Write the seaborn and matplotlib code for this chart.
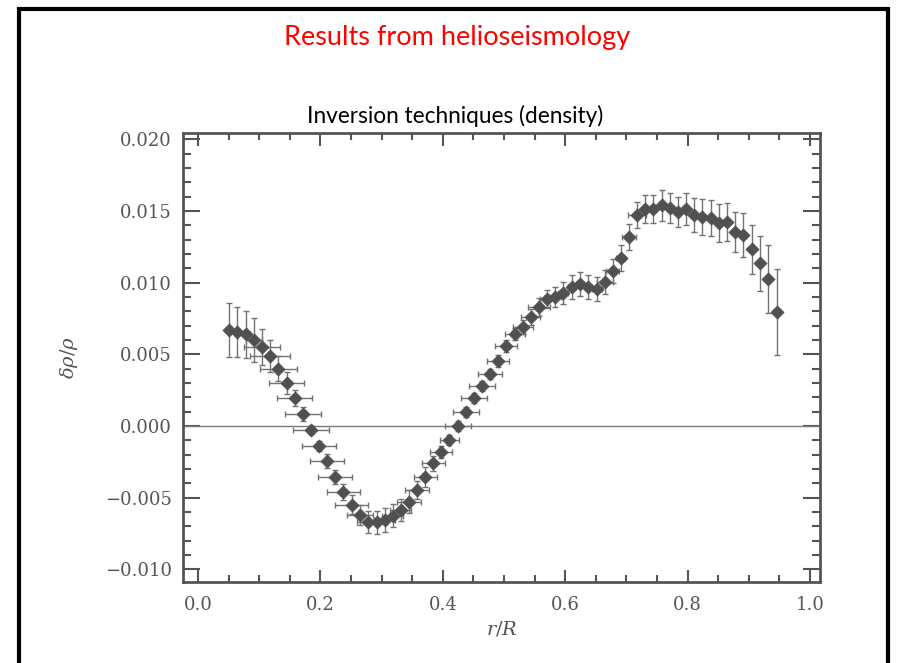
import matplotlib
matplotlib.use("Agg")
import matplotlib.pyplot as plt
from matplotlib.patches import Rectangle
from matplotlib.ticker import MultipleLocator
import seaborn as sns
import pandas as pd

# ---- data ----
r_over_R = [0.0511, 0.0642, 0.0779, 0.0915, 0.1046, 0.1176, 0.1312, 0.1449, 0.1580, 0.1716,
            0.1846, 0.1982, 0.2113, 0.2244, 0.2374, 0.2511, 0.2647, 0.2783, 0.2920, 0.3051,
            0.3181, 0.3312, 0.3448, 0.3578, 0.3714, 0.3845, 0.3975, 0.4106, 0.4243, 0.4379,
            0.4510, 0.4641, 0.4771, 0.4907, 0.5038, 0.5175, 0.5306, 0.5436, 0.5577, 0.5708,
            0.5838, 0.5969, 0.6106, 0.6242, 0.6377, 0.6515, 0.6645, 0.6773, 0.6904, 0.7042,
            0.7173, 0.7304, 0.7440, 0.7577, 0.7708, 0.7843, 0.7974, 0.8110, 0.8240, 0.8377,
            0.8508, 0.8644, 0.8775, 0.8910, 0.9048, 0.9183, 0.9319, 0.9456]
drho_rho = [0.00670, 0.00658, 0.00640, 0.00600, 0.00553, 0.00488, 0.00401, 0.00302, 0.00193, 0.00084,
            -0.00028, -0.00137, -0.00244, -0.00354, -0.00458, -0.00551, -0.00621, -0.00668, -0.00672, -0.00656,
            -0.00626, -0.00586, -0.00528, -0.00447, -0.00354, -0.00260, -0.00179, -0.00098, 0.00000, 0.00100,
            0.00197, 0.00279, 0.00361, 0.00456, 0.00560, 0.00640, 0.00693, 0.00759, 0.00833, 0.00886,
            0.00902, 0.00926, 0.00972, 0.00989, 0.00968, 0.00956, 0.01007, 0.01084, 0.01174, 0.01321,
            0.01472, 0.01512, 0.01512, 0.01539, 0.01523, 0.01496, 0.01512, 0.01472, 0.01461, 0.01449,
            0.01415, 0.01421, 0.01356, 0.01333, 0.01233, 0.01135, 0.01026, 0.00798]
y_err = [0.00186, 0.00174, 0.00165, 0.00154, 0.00126, 0.00112, 0.00084, 0.00077, 0.00056, 0.00049,
         0.00031, 0.00035, 0.00047, 0.00049, 0.00056, 0.00066, 0.00070, 0.00077, 0.00082, 0.00082,
         0.00079, 0.00075, 0.00082, 0.00066, 0.00070, 0.00052, 0.00042, 0.00035, 0.00035, 0.00035,
         0.00035, 0.00035, 0.00035, 0.00042, 0.00042, 0.00042, 0.00049, 0.00056, 0.00063, 0.00063,
         0.00070, 0.00077, 0.00084, 0.00084, 0.00084, 0.00084, 0.00084, 0.00084, 0.00091, 0.00091,
         0.00091, 0.00098, 0.00098, 0.00105, 0.00105, 0.00105, 0.00112, 0.00119, 0.00126, 0.00126,
         0.00133, 0.00133, 0.00140, 0.00154, 0.00171, 0.00193, 0.00237, 0.00300]
x_err = [0.000, 0.000, 0.005, 0.013, 0.030, 0.032, 0.030, 0.029, 0.029, 0.029,
         0.029, 0.028, 0.028, 0.028, 0.027, 0.027, 0.022, 0.018, 0.017, 0.017,
         0.017, 0.017, 0.019, 0.019, 0.019, 0.019, 0.018, 0.016, 0.021, 0.021,
         0.021, 0.021, 0.020, 0.018, 0.018, 0.016, 0.016, 0.016, 0.018, 0.012,
         0.010, 0.008, 0.006, 0.006, 0.006, 0.008, 0.013, 0.010, 0.008, 0.011,
         0.015, 0.004, 0.004, 0.004, 0.004, 0.004, 0.004, 0.004, 0.004, 0.004,
         0.004, 0.004, 0.004, 0.004, 0.004, 0.004, 0.004, 0.004]

x_ticks = [0.0, 0.2, 0.4, 0.6, 0.8, 1.0]
y_ticks = [-0.010, -0.005, 0.000, 0.005, 0.010, 0.015, 0.020]

title_text = "Results from helioseismology"
subtitle_text = "Inversion techniques (density)"
x_label = "$r/R$"
y_label = r"$\delta\rho/\rho$"

df = pd.DataFrame({"r": r_over_R, "d": drho_rho})

# ---- figure ----
sns.set_style("ticks")
plt.rcParams["font.family"] = ["DejaVu Serif"]
plt.rcParams["mathtext.fontset"] = "dejavuserif"

W, H, DPI = 901, 663, 100
fig = plt.figure(figsize=(W / DPI, H / DPI), dpi=DPI)
fig.patch.set_facecolor("white")

ax = fig.add_axes([183 / W, 1 - 582 / H, (820 - 183) / W, (582 - 133) / H])

axis_col = "#555555"
pt_col = "#505050"
err_col = "#727272"

ax.axhline(0.0, color="#7a7a7a", lw=1.0, zorder=1)
ax.errorbar(r_over_R, drho_rho, yerr=y_err, xerr=x_err, fmt="none",
            ecolor=err_col, elinewidth=1.0, capsize=2.5, capthick=1.0, zorder=2)
sns.scatterplot(data=df, x="r", y="d", ax=ax, marker="D", s=45,
                color=pt_col, edgecolor=pt_col, linewidth=0.5, zorder=3, legend=False)

ax.set_xlim(-0.0245, 1.0163)
ax.set_ylim(-0.01089, 0.02045)
ax.set_xticks(x_ticks)
ax.set_yticks(y_ticks)
ax.set_xticklabels([f"{t:.1f}" for t in x_ticks])
ax.set_yticklabels([f"{t:.3f}".replace("-", "\u2212") for t in y_ticks])
ax.xaxis.set_minor_locator(MultipleLocator(0.05))
ax.yaxis.set_minor_locator(MultipleLocator(0.001))

ax.tick_params(axis="both", which="both", direction="in", top=True, right=True,
               color=axis_col, labelcolor=axis_col, width=1.5)
ax.tick_params(axis="y", which="major", length=12, labelsize=13, pad=8)
ax.tick_params(axis="y", which="minor", length=6)
ax.tick_params(axis="x", which="major", length=9, labelsize=13, pad=10)
ax.tick_params(axis="x", which="minor", length=5)
for s in ax.spines.values():
    s.set_color(axis_col)
    s.set_linewidth(2.0)

ax.set_xlabel(x_label, fontsize=14, color=axis_col, labelpad=4)
ax.set_ylabel(y_label, fontsize=14, color=axis_col, labelpad=18)

# slide texts
fig.text(457 / W, 1 - 38 / H, title_text, color="red", fontsize=19.5,
         family=["Lato", "DejaVu Sans"], ha="center", va="center")
fig.text(455 / W, 1 - 116 / H, subtitle_text, color="black", fontsize=16.3,
         family=["Lato", "DejaVu Sans"], ha="center", va="center")

# slide frame
frame = Rectangle((19 / W, -0.05), (888 - 19) / W, (1 - 9 / H) + 0.05,
                  transform=fig.transFigure, fill=False, edgecolor="black",
                  linewidth=3, zorder=10)
fig.patches.append(frame)

fig.savefig("out.png", dpi=DPI)
